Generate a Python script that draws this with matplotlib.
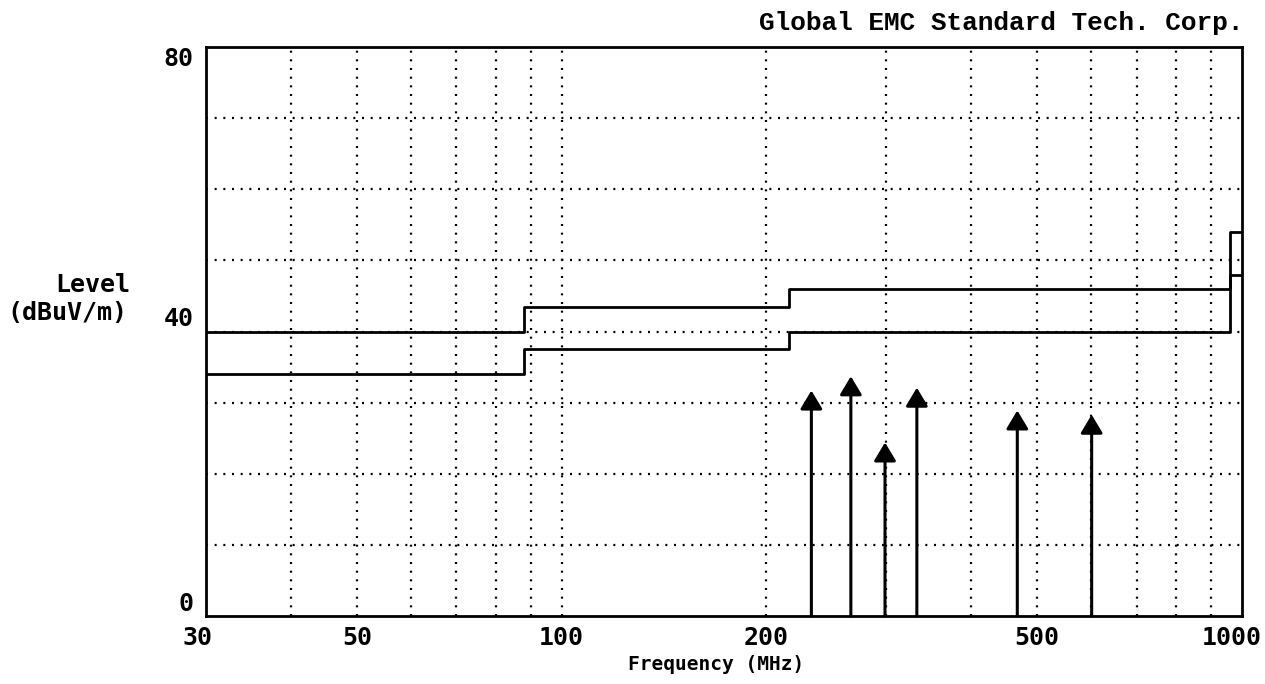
import matplotlib
matplotlib.use('Agg')
import matplotlib.pyplot as plt
from matplotlib.transforms import ScaledTranslation

# ---- data ----
limit_freq = [30, 88, 216, 960, 1000]          # MHz, step edges
qp_limit = [40, 43.5, 46, 54]                   # dBuV/m
margin_limit = [34, 37.5, 40, 48]               # dBuV/m
peak_freq = [232.8, 266.1, 298.7, 332.7, 467.4, 601.2]   # MHz
peak_level = [31.7, 33.7, 24.4, 32.1, 28.9, 28.3]        # dBuV/m
x_ticks = [30, 50, 100, 200, 500, 1000]
x_tick_labels = ['30', '50', '100', '200', '500', '1000']
y_ticks = [0, 40, 80]
y_tick_labels = ['0', '40', '80']
x_grid = [40, 50, 60, 70, 80, 90, 100, 200, 300, 400, 500, 600, 700, 800, 900]
y_grid = [10, 20, 30, 40, 50, 60, 70]

W, H = 1265, 684
fig = plt.figure(figsize=(W / 100, H / 100), dpi=100)
ax = fig.add_axes([206 / W, 1 - 616 / H, 1036 / W, 569 / H])
ax.set_xscale('log')
ax.set_xlim(30, 1000)
ax.set_ylim(0, 80)

dot = (0, (0.9, 3))
ax.vlines(x_grid, 0, 80, colors='black', linestyles=dot, linewidth=1.6, zorder=1)
ax.hlines(y_grid, 30, 1000, colors='black', linestyles=dot, linewidth=1.6, zorder=1)

ax.step(limit_freq, qp_limit + [qp_limit[-1]], where='post', color='black', lw=2, zorder=3)
ax.step(limit_freq, margin_limit + [margin_limit[-1]], where='post', color='black', lw=2, zorder=3)

for f, v in zip(peak_freq, peak_level):
    ax.annotate('', xy=(f, v), xytext=(f, 0),
                arrowprops=dict(arrowstyle='-|>,head_length=0.7,head_width=0.42',
                                color='black', lw=2.2, shrinkA=0, shrinkB=0,
                                mutation_scale=16), zorder=4)

for s in ax.spines.values():
    s.set_linewidth(2)

lab_font = dict(family='DejaVu Sans Mono', weight='bold')
ax.set_xticks(x_ticks)
ax.set_xticklabels(x_tick_labels, fontsize=18, **lab_font)
ax.xaxis.set_minor_locator(matplotlib.ticker.NullLocator())
ax.set_yticks(y_ticks)
ax.set_yticklabels(y_tick_labels, fontsize=18, **lab_font)
ax.tick_params(axis='x', length=0, pad=7)
ax.tick_params(axis='y', length=0, pad=9)
yl = ax.get_yticklabels()
yl[0].set_va('bottom')
yl[1].set_va('bottom')
yl[2].set_va('top')
xl = ax.get_xticklabels()
xl[0].set_transform(xl[0].get_transform() + ScaledTranslation(-0.08, 0, fig.dpi_scale_trans))
xl[-1].set_transform(xl[-1].get_transform() + ScaledTranslation(-0.10, 0, fig.dpi_scale_trans))

fig.text(716 / W, 1 - 664 / H, 'Frequency (MHz)', ha='center', va='center', fontsize=14, **lab_font)
fig.text(130 / W, 1 - 285 / H, 'Level', ha='right', va='center', fontsize=18, **lab_font)
fig.text(127 / W, 1 - 313 / H, '(dBuV/m)', ha='right', va='center', fontsize=18, **lab_font)
fig.text(1243 / W, 1 - 23 / H, 'Global EMC Standard Tech. Corp.', ha='right', va='center',
         fontsize=18.8, family='Liberation Mono', weight='bold')

fig.savefig('out.png', dpi=100)
